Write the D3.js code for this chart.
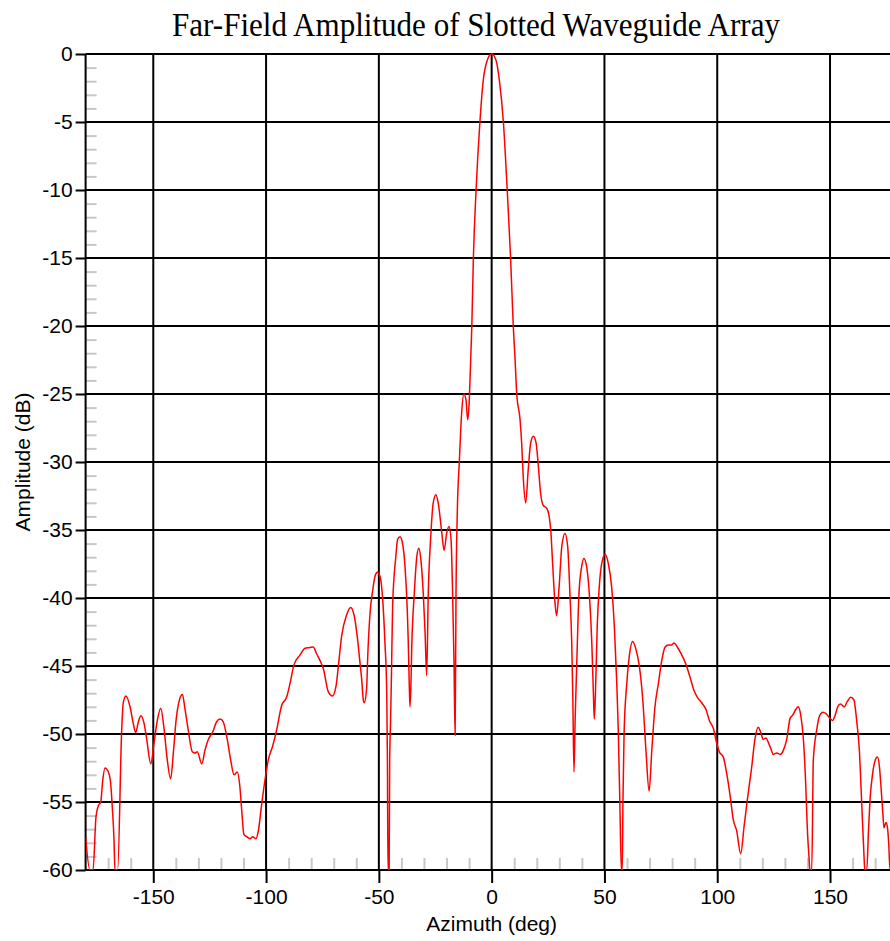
<!DOCTYPE html>
<html>
<head>
<meta charset="utf-8">
<script src="https://cdn.jsdelivr.net/npm/d3@7"></script>
<style>
  html, body { margin: 0; padding: 0; background: #fff; }
  svg { display: block; }
  .tick text { font-family: "Liberation Sans", Arial, sans-serif; }
</style>
</head>
<body>
<svg id="chart" width="890" height="941"></svg>
<script>
// Far-field pattern of a slotted waveguide array (azimuth cut)
const azimuth = [
  -180, -178.1, -176.7, -175.4, -174.4, -173.3, -172.4, -171.4, -169.9, -168.9,
  -168.2, -167.4, -167.0, -165.8, -164.0, -163.3, -162.1, -160.3, -158.9, -157.8,
  -156.6, -155.5, -154.1, -152.9, -151.1, -149.7, -148.2, -146.7, -145.3, -143.8,
  -142.3, -141.1, -139.9, -138.4, -137.1, -135.9, -134.5, -132.7, -131.5, -130.5,
  -128.5, -127.1, -125.6, -123.8, -121.9, -120.4, -119.0, -117.2, -115.7, -114.2,
  -112.8, -111.6, -110.8, -109.8, -108.6, -107.1, -105.9, -104.5, -103.4, -101.9,
  -100.5, -99.0, -97.1, -95.3, -93.1, -90.9, -89.4, -87.6, -85.0, -82.7,
  -80.8, -79.1, -77.6, -75.8, -74.6, -72.4, -70.6, -69.0, -67.7, -66.5,
  -64.3, -62.5, -61.0, -59.6, -58.4, -57.6, -56.9, -56.5, -55.4, -55.0,
  -53.9, -52.7, -51.7, -50.7, -49.5, -48.3, -47.3, -46.5, -46.2, -45.95,
  -45.45, -45.2, -44.8, -44.4, -43.9, -42.5, -41.7, -40.6, -39.6, -38.4,
  -37.4, -37.0, -36.5, -36.2, -35.8, -35.4, -34.3, -33.2, -32.3, -31.5,
  -30.3, -29.5, -28.8, -28.1, -27.0, -25.9, -24.7, -23.7, -22.1, -21.1,
  -19.9, -18.9, -18.0, -17.3, -16.7, -16.2, -15.8, -15.2, -14.3, -13.3,
  -12.3, -11.4, -10.6, -9.9, -9.3, -8.8, -8.1, -6.9, -5.2, -3.7,
  -1.9, 0, 1.9, 3.4, 5.2, 6.9, 8.4, 9.6, 10.4, 11.1,
  12.6, 13.3, 14.0, 15.1, 16.2, 17.3, 18.5, 19.7, 20.7, 21.7,
  22.9, 24.4, 25.4, 26.2, 27.1, 28.1, 28.8, 29.9, 31.1, 32.5,
  33.7, 34.7, 35.5, 36.0, 36.5, 37.0, 37.7, 38.7, 39.9, 40.9,
  42.1, 43.3, 44.4, 45.1, 45.5, 46.1, 46.8, 47.7, 48.8, 50.3,
  51.7, 53.2, 54.4, 55.4, 56.1, 56.9, 57.5, 57.9, 58.2, 58.7,
  59.9, 61.0, 62.5, 64.0, 65.5, 67.0, 68.4, 69.8, 71.0, 72.4,
  73.9, 75.4, 76.9, 78.3, 79.8, 80.8, 82.3, 84.3, 86.2, 87.9,
  89.7, 91.2, 93.1, 95.0, 96.5, 98.3, 99.8, 100.9, 102.7, 104.2,
  106.0, 107.1, 108.6, 110.4, 111.9, 113.3, 115.3, 116.7, 118.2, 119.4,
  120.4, 121.6, 122.6, 123.7, 124.9, 126.4, 127.8, 129.3, 130.8, 132.3,
  133.5, 134.8, 135.9, 137.0, 138.2, 139.2, 139.9, 140.7, 141.1, 141.9,
  142.6, 144.1, 145.3, 146.8, 148.2, 150.0, 151.2, 152.3, 153.7, 154.7,
  156.3, 157.7, 159.2, 160.6, 161.8, 163.0, 164.0, 165.1, 165.4, 166.3,
  167.0, 167.7, 168.9, 169.9, 171.0, 171.9, 172.6, 173.4, 173.9, 174.8,
  175.4, 176.0, 176.6, 180
];
const amplitude = [
  -57.6, -60, -60, -56.1, -55.3, -55.0, -53.4, -52.5, -52.8, -53.6,
  -55.3, -57.8, -60, -60, -49.7, -47.7, -47.2, -48.0, -49.2, -49.9,
  -49.1, -48.65, -49.2, -50.4, -52.2, -50.7, -49.0, -48.1, -49.5, -51.9,
  -53.3, -51.4, -49.0, -47.5, -47.1, -48.2, -49.7, -51.3, -51.4, -51.3,
  -52.2, -51.2, -50.4, -49.9, -49.1, -48.9, -49.1, -50.4, -51.9, -53.0,
  -52.8, -53.9, -55.6, -57.4, -57.55, -57.7, -57.55, -57.7, -57.1, -55.1,
  -53.4, -51.9, -50.9, -49.7, -47.9, -47.3, -46.3, -44.9, -44.2, -43.7,
  -43.65, -43.6, -44.1, -44.7, -45.2, -46.9, -47.2, -46.5, -44.6, -42.8,
  -41.25, -40.7, -41.25, -42.8, -44.7, -46.0, -47.5, -47.7, -46.6, -44.6,
  -41.1, -39.4, -38.4, -38.1, -38.4, -40.1, -43.3, -47.0, -52.0, -60,
  -60, -52.0, -49.0, -45.5, -40.6, -37.0, -35.7, -35.5, -35.9, -37.7,
  -40.9, -43.0, -46.5, -48.0, -46.5, -43.5, -39.7, -37.0, -36.35, -37.0,
  -39.7, -42.6, -45.7, -39.7, -35.5, -33.0, -32.4, -33.0, -35.2, -36.5,
  -35.2, -34.75, -35.7, -39.7, -44.6, -50.1, -39.7, -33.5, -29.9, -26.4,
  -25.0, -25.4, -26.9, -25.4, -22.5, -20.05, -15.0, -10.0, -5.0, -1.9,
  -0.44, 0, -0.44, -1.9, -5.0, -10.0, -15.0, -20.05, -22.5, -24.95,
  -26.9, -28.6, -31.1, -33.0, -30.6, -28.6, -28.1, -28.6, -30.3, -32.3,
  -33.2, -33.4, -33.9, -35.0, -37.7, -40.4, -41.3, -39.2, -36.2, -35.25,
  -36.2, -39.7, -43.3, -47.5, -52.8, -49.0, -45.0, -39.7, -37.7, -37.1,
  -37.7, -39.7, -43.3, -47.0, -48.9, -46.5, -42.1, -39.2, -37.45, -36.8,
  -37.45, -39.2, -42.1, -46.0, -49.5, -55.6, -60, -60, -55.0, -50.0,
  -46.3, -44.3, -43.2, -43.8, -45.05, -47.5, -51.2, -54.2, -51.2, -48.0,
  -46.3, -44.6, -43.6, -43.45, -43.45, -43.3, -43.6, -44.2, -44.9, -45.8,
  -46.8, -47.3, -47.7, -48.2, -49.0, -49.6, -50.7, -51.3, -51.7, -52.9,
  -54.9, -56.3, -57.1, -58.8, -56.8, -54.9, -52.4, -50.4, -49.5, -49.95,
  -50.4, -50.3, -50.6, -51.05, -51.5, -51.4, -51.5, -51.2, -50.4, -48.85,
  -48.6, -48.2, -48.0, -48.6, -50.4, -53.6, -56.8, -59.1, -60, -60,
  -51.9, -49.7, -48.7, -48.4, -48.5, -48.85, -49.0, -48.6, -47.9, -47.8,
  -48.0, -47.6, -47.3, -47.5, -49.0, -51.2, -54.9, -59.1, -60, -60,
  -57.3, -54.9, -52.9, -52.0, -51.7, -52.4, -53.9, -55.8, -56.9, -56.5,
  -56.8, -58.0, -60, -60
];

const xTicks = [-150, -100, -50, 0, 50, 100, 150];
const xMinorTicks = [-170, -160, -140, -130, -120, -110, -90, -80, -70, -60, -40, -30, -20, -10,
                     10, 20, 30, 40, 60, 70, 80, 90, 110, 120, 130, 140, 160, 170];
const yTicks = [0, -5, -10, -15, -20, -25, -30, -35, -40, -45, -50, -55, -60];
const yMinorTicks = d3.range(-59, 0).filter(v => v % 5 !== 0);

const titleText = "Far-Field Amplitude of Slotted Waveguide Array";
const xLabel = "Azimuth (deg)";
const yLabel = "Amplitude (dB)";

const svg = d3.select("#chart");
const plotLeft = 85.6, plotRight = 897.7, plotTop = 54, plotBottom = 870;

const x = d3.scaleLinear().domain([-180, 180]).range([plotLeft, plotRight]);
const y = d3.scaleLinear().domain([-60, 0]).range([plotBottom, plotTop]);

// minor ticks (light grey, inside the frame)
svg.append("g")
  .attr("transform", `translate(${plotLeft},0)`)
  .call(d3.axisLeft(y).tickValues(yMinorTicks).tickSize(-11).tickFormat(""))
  .call(g => g.select(".domain").remove())
  .call(g => g.selectAll("line").attr("stroke", "#c8c8c8").attr("stroke-width", 2));

svg.append("g")
  .attr("transform", `translate(0,${plotBottom})`)
  .call(d3.axisBottom(x).tickValues(xMinorTicks).tickSize(-12).tickFormat(""))
  .call(g => g.select(".domain").remove())
  .call(g => g.selectAll("line").attr("stroke", "#c8c8c8").attr("stroke-width", 2));

// major grid
svg.append("g")
  .selectAll("line").data(yTicks).join("line")
  .attr("x1", plotLeft).attr("x2", 890)
  .attr("y1", d => y(d)).attr("y2", d => y(d))
  .attr("stroke", "#000").attr("stroke-width", 2);

svg.append("g")
  .selectAll("line").data(xTicks).join("line")
  .attr("x1", d => x(d)).attr("x2", d => x(d))
  .attr("y1", plotTop).attr("y2", plotBottom)
  .attr("stroke", "#000").attr("stroke-width", 2);

// axes
const yAxis = svg.append("g")
  .attr("transform", `translate(${plotLeft},0)`)
  .call(d3.axisLeft(y).tickValues(yTicks).tickSize(10).tickPadding(3).tickFormat(d => String(d)));
yAxis.select(".domain").attr("stroke", "#000").attr("stroke-width", 2).attr("d", `M0,${plotTop}V${plotBottom}`);
yAxis.selectAll("line").attr("stroke", "#000").attr("stroke-width", 2);
yAxis.selectAll("text").attr("font-size", 21).attr("fill", "#000");

const xAxis = svg.append("g")
  .attr("transform", `translate(0,${plotBottom})`)
  .call(d3.axisBottom(x).tickValues(xTicks).tickSize(13).tickPadding(6).tickFormat(d => String(d)));
xAxis.select(".domain").attr("stroke", "#000").attr("stroke-width", 2).attr("d", `M${plotLeft},0H890`);
xAxis.selectAll("line").attr("stroke", "#000").attr("stroke-width", 2);
xAxis.selectAll("text").attr("font-size", 21).attr("fill", "#000");

// pattern curve
svg.append("clipPath").attr("id", "plotClip")
  .append("rect").attr("x", plotLeft).attr("y", plotTop - 2)
  .attr("width", plotRight - plotLeft).attr("height", plotBottom - plotTop + 2);

const line = d3.line()
  .x((d, i) => x(azimuth[i]))
  .y(d => y(d))
  .curve(d3.curveMonotoneX);

svg.append("path")
  .attr("clip-path", "url(#plotClip)")
  .attr("d", line(amplitude))
  .attr("fill", "none")
  .attr("stroke", "#ff0000")
  .attr("stroke-width", 1.5)
  .attr("stroke-linejoin", "round");

// titles
svg.append("text")
  .attr("x", 172).attr("y", 36)
  .attr("textLength", 608).attr("lengthAdjust", "spacingAndGlyphs")
  .attr("font-family", "'Liberation Serif', 'Times New Roman', serif")
  .attr("font-size", 34)
  .attr("fill", "#000")
  .text(titleText);

svg.append("text")
  .attr("x", x(0)).attr("y", 931)
  .attr("text-anchor", "middle")
  .attr("font-family", "'Liberation Sans', Arial, sans-serif")
  .attr("font-size", 21)
  .attr("fill", "#000")
  .text(xLabel);

svg.append("text")
  .attr("transform", `translate(30,${(plotTop + plotBottom) / 2}) rotate(-90)`)
  .attr("text-anchor", "middle")
  .attr("font-family", "'Liberation Sans', Arial, sans-serif")
  .attr("font-size", 21)
  .attr("fill", "#000")
  .text(yLabel);
</script>
</body>
</html>
